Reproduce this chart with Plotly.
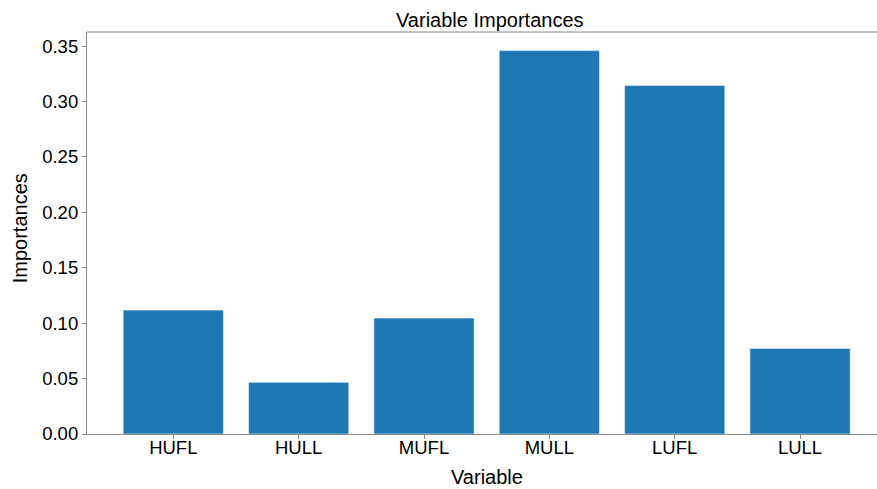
import plotly.graph_objects as go

# Feature importances per input variable
variables = ["HUFL", "HULL", "MUFL", "MULL", "LUFL", "LULL"]
importances = [0.1118, 0.0466, 0.1046, 0.3460, 0.3146, 0.0772]
y_ticks = [0.00, 0.05, 0.10, 0.15, 0.20, 0.25, 0.30, 0.35]

W, H = 877, 489
L, R, T, B = 87, 0, 31.5, 55
plot_w = W - L - R
plot_h = H - T - B

FONT = "Liberation Sans, Arial, sans-serif"
SPINE = "#8a8a8a"


def px_x(px):
    return (px - L) / plot_w


def px_y(py):
    return (H - B - py) / plot_h


fig = go.Figure(
    go.Bar(
        x=list(range(len(variables))),
        y=importances,
        marker=dict(color="#1f77b4", line=dict(color="rgba(255,255,255,0.55)", width=1)),
        width=0.8,
        hoverinfo="x+y",
    )
)

fig.update_layout(
    width=W,
    height=H,
    margin=dict(l=L, r=R, t=T, b=B, pad=0),
    paper_bgcolor="white",
    plot_bgcolor="white",
    showlegend=False,
    font=dict(family=FONT, color="black"),
    xaxis=dict(
        range=[-0.6885, 5.614],
        tickmode="array",
        tickvals=list(range(len(variables))),
        ticktext=variables,
        tickfont=dict(size=18.5, family=FONT, color="black"),
        ticklabelstandoff=-7,
        ticks="outside",
        ticklen=4,
        tickwidth=1,
        tickcolor=SPINE,
        showline=True,
        linecolor=SPINE,
        linewidth=1.2,
        showgrid=False,
        zeroline=False,
        fixedrange=True,
    ),
    yaxis=dict(
        range=[0, 0.3628],
        tickmode="array",
        tickvals=y_ticks,
        ticktext=[f"{v:.2f}" for v in y_ticks],
        tickfont=dict(size=18.5, family=FONT, color="black"),
        ticks="outside",
        ticklen=4,
        tickwidth=1,
        tickcolor=SPINE,
        showline=True,
        linecolor=SPINE,
        linewidth=1.2,
        showgrid=False,
        zeroline=False,
        fixedrange=True,
    ),
    shapes=[
        dict(
            type="line", xref="paper", yref="paper",
            x0=0, x1=1, y0=1, y1=1,
            line=dict(color=SPINE, width=1.2),
        )
    ],
    annotations=[
        dict(
            text="Variable Importances",
            xref="paper", yref="paper",
            x=px_x(489.7), y=px_y(19.5),
            xanchor="center", yanchor="middle",
            showarrow=False,
            font=dict(size=20, family=FONT, color="black"),
        ),
        dict(
            text="Variable",
            xref="paper", yref="paper",
            x=px_x(486.5), y=px_y(477.5),
            xanchor="center", yanchor="middle",
            showarrow=False,
            font=dict(size=20, family=FONT, color="black"),
        ),
        dict(
            text="Importances",
            xref="paper", yref="paper",
            x=px_x(20), y=px_y(228),
            xanchor="center", yanchor="middle",
            textangle=-90,
            showarrow=False,
            font=dict(size=20, family=FONT, color="black"),
        ),
    ],
)

fig.write_html("out.html")
